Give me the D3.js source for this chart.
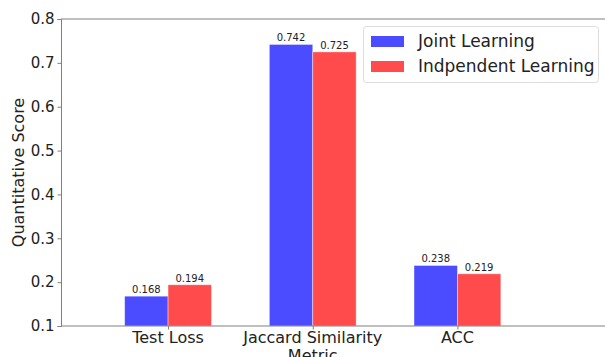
<!DOCTYPE html>
<html><head><meta charset="utf-8">
<script src="https://cdn.jsdelivr.net/npm/d3@7"></script>
<style>body{margin:0;background:#fff}svg{display:block;font-family:"DejaVu Sans",sans-serif}</style>
</head><body>
<svg id="c" width="605" height="357"></svg>
<script>
const categories = ["Test Loss", "Jaccard Similarity\nMetric", "ACC"];
const series = ["Joint Learning", "Indpendent Learning"];
const joint = [0.168, 0.742, 0.238];
const indep = [0.194, 0.725, 0.219];
const yTicks = [0.1, 0.2, 0.3, 0.4, 0.5, 0.6, 0.7, 0.8];
const colors = ["#4b4bff", "#ff4b4b"];

(function () {
const svg = d3.select("#c");
const mLeft = 61, mTop = 19, mBottom = 326, mRight = 605;
const x = d3.scaleLinear().domain([-0.74, 3.02]).range([mLeft, mRight]);
const y = d3.scaleLinear().domain([0.1, 0.8]).range([mBottom, mTop]);
const bw = 0.3;

// bars
const vals = [joint, indep];
vals.forEach((arr, s) => {
  const g = svg.append("g");
  arr.forEach((v, i) => {
    const x0 = x(i + (s === 0 ? -bw : 0)), x1 = x(i + (s === 0 ? 0 : bw));
    g.append("rect").attr("x", x0).attr("y", y(v)).attr("width", x1 - x0).attr("height", y(0.1) - y(v))
      .attr("fill", colors[s]).attr("stroke", "#ffffff").attr("stroke-opacity", 0.5).attr("stroke-width", 0.8);
    g.append("text").attr("x", (x0 + x1) / 2).attr("y", y(v) - 3).attr("text-anchor", "middle")
      .attr("font-size", 10).attr("fill", "#222").text(v.toFixed(3));
  });
});

// spines
svg.append("line").attr("x1", mLeft).attr("x2", mRight).attr("y1", mTop).attr("y2", mTop).attr("stroke", "#808080");
svg.append("line").attr("x1", mLeft).attr("x2", mRight).attr("y1", mBottom).attr("y2", mBottom).attr("stroke", "#808080");

// y axis
const ya = d3.axisLeft(y).tickValues(yTicks).tickFormat(d3.format(".1f")).tickSize(3.5).tickPadding(3);
const yg = svg.append("g").attr("transform", `translate(${mLeft},0)`).call(ya);
yg.select(".domain").attr("stroke", "#808080");
yg.selectAll(".tick line").attr("stroke", "#808080");
yg.selectAll(".tick text").attr("font-size", 15).attr("fill", "#222").attr("font-family", "DejaVu Sans");

// x axis
const xa = d3.axisBottom(x).tickValues([0, 1, 2]).tickFormat("").tickSize(3.5);
const xg = svg.append("g").attr("transform", `translate(0,${mBottom})`).call(xa);
xg.select(".domain").remove();
xg.selectAll(".tick line").attr("stroke", "#808080");
categories.forEach((c, i) => {
  const t = svg.append("text").attr("x", x(i)).attr("y", 343).attr("text-anchor", "middle")
    .attr("font-size", 16).attr("fill", "#222");
  c.split("\n").forEach((line, k) => {
    t.append("tspan").attr("x", x(i)).attr("dy", k === 0 ? 0 : 18).text(line);
  });
});

// y title
svg.append("text").attr("transform", `translate(24,${(mTop + mBottom) / 2}) rotate(-90)`)
  .attr("text-anchor", "middle").attr("font-size", 16).attr("fill", "#222").text("Quantitative Score");

// legend
const lg = svg.append("g");
lg.append("rect").attr("x", 363.5).attr("y", 26.5).attr("width", 235).attr("height", 56).attr("rx", 3)
  .attr("fill", "#fff").attr("fill-opacity", 0.8).attr("stroke", "#ddd");
series.forEach((s, i) => {
  const cy = 41 + i * 25;
  lg.append("rect").attr("x", 371).attr("y", cy - 5).attr("width", 33).attr("height", 11).attr("fill", colors[i]);
  lg.append("text").attr("x", 418).attr("y", cy + 6).attr("font-size", 17).attr("fill", "#222").text(s);
});
})();
</script>
</body></html>
